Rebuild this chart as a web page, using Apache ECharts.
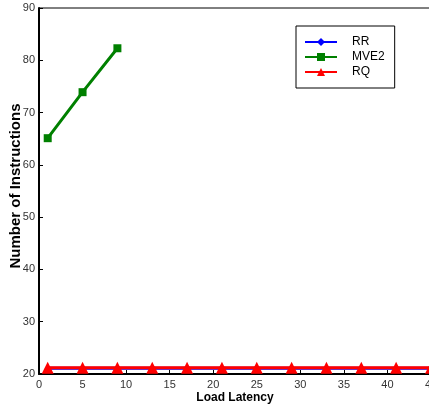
<!DOCTYPE html>
<html><head><meta charset="utf-8">
<script src="https://cdn.jsdelivr.net/npm/echarts@6/dist/echarts.min.js"></script>
<style>html,body{margin:0;padding:0;background:#fff}#c{width:429px;height:409px}</style>
</head><body><div id="c"></div>
<script>
var xValsRR = [1,5,9,13,17,21,25,29,33,37,41,45];
var rrVals = [21.1,21.1,21.1,21.1,21.1,21.1,21.1,21.1,21.1,21.1,21.1,21.1];
var xValsMVE2 = [1,5,9];
var mve2Vals = [65.1,73.9,82.3];
var xValsRQ = [1,5,9,13,17,21,25,29,33,37,41,45];
var rqVals = [21.2,21.2,21.2,21.2,21.2,21.2,21.2,21.2,21.2,21.2,21.2,21.2];
var seriesNames = ['RR','MVE2','RQ'];
var xTitle = 'Load Latency';
var yTitle = 'Number of Instructions';

function pairs(xs, ys){ return xs.map(function(x,i){return [x, ys[i]];}); }
var chart = echarts.init(document.getElementById('c'));
var font = 'Liberation Sans, Arial, sans-serif';
chart.setOption({
  animation:false,
  grid:{left:39, top:8, width:392, height:366, show:true, borderColor:'#000', borderWidth:1,
        containLabel:false, outerBoundsMode:'none'},
  legend:{
    orient:'vertical', left:296, top:26,
    data:seriesNames,
    borderColor:'#000', borderWidth:1, backgroundColor:'#fff',
    padding:[10,10,10,8], itemGap:3, itemWidth:32, itemHeight:10,
    textStyle:{fontFamily:font, fontSize:12, color:'#000', padding:[0,0,0,10]}
  },
  xAxis:{type:'value', min:0, max:45, interval:5,
    axisLine:{lineStyle:{color:'#000', width:2}},
    axisTick:{inside:true, length:4, lineStyle:{color:'#000'}},
    axisLabel:{fontFamily:font, fontSize:11, color:'#333', margin:5},
    splitLine:{show:false},
    name:xTitle, nameLocation:'middle', nameGap:18, nameMoveOverlap:false,
    nameTextStyle:{fontFamily:font, fontSize:12, fontWeight:'bold', color:'#000'}
  },
  yAxis:{type:'value', min:20, max:90, interval:10,
    axisLine:{lineStyle:{color:'#000', width:2}},
    axisTick:{inside:true, length:4, lineStyle:{color:'#000'}},
    axisLabel:{fontFamily:font, fontSize:11, color:'#333', margin:4},
    splitLine:{show:false},
    name:yTitle, nameLocation:'middle', nameGap:16, nameMoveOverlap:false,
    nameTextStyle:{fontFamily:font, fontSize:15, fontWeight:'bold', color:'#000', padding:[0,0,0,10]}
  },
  series:[
    {name:'RR', type:'line', data:pairs(xValsRR, rrVals), symbol:'diamond', symbolSize:6,
     lineStyle:{color:'#0000ff', width:3}, itemStyle:{color:'#0000ff'}},
    {name:'MVE2', type:'line', data:pairs(xValsMVE2, mve2Vals), symbol:'rect', symbolSize:8,
     lineStyle:{color:'#008000', width:3}, itemStyle:{color:'#008000'}},
    {name:'RQ', type:'line', data:pairs(xValsRQ, rqVals), symbol:'triangle', symbolSize:12,
     lineStyle:{color:'#ff0000', width:3}, itemStyle:{color:'#ff0000'}}
  ]
});
</script></body></html>
